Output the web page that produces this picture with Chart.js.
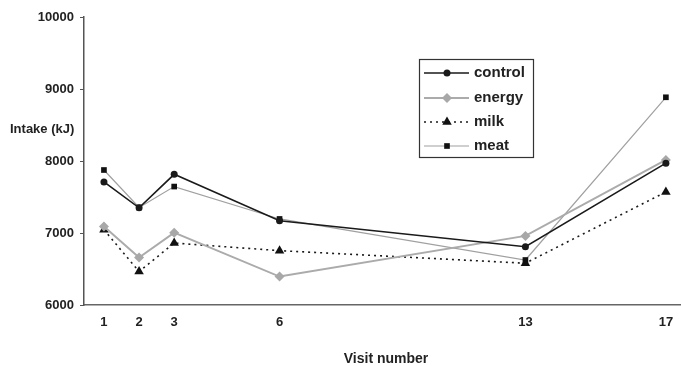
<!DOCTYPE html>
<html>
<head>
<meta charset="utf-8">
<script src="https://cdn.jsdelivr.net/npm/chart.js@4.4.0/dist/chart.umd.min.js"></script>
<style>
html,body{margin:0;padding:0;background:#fff;}
#wrap{width:681px;height:366px;position:relative;}
</style>
</head>
<body>
<div id="wrap"><canvas id="c" width="681" height="366"></canvas></div>
<script>
const visits = [1, 2, 3, 6, 13, 17];
const control = [7710, 7350, 7815, 7170, 6810, 7970];
const energy  = [7090, 6660, 7005, 6395, 6960, 8015];
const milk    = [7045, 6465, 6860, 6755, 6580, 7570];
const meat    = [7875, 7355, 7645, 7195, 6625, 8885];
const yTicks  = [6000, 7000, 8000, 9000, 10000];
const seriesNames = ['control', 'energy', 'milk', 'meat'];

const FONT = '"Liberation Sans", Arial, sans-serif';

function pts(vals){ return visits.map((v,i)=>({x:v, y:vals[i]})); }

const datasets = [
  {label: seriesNames[0], data: pts(control), borderColor:'#1a1a1a', backgroundColor:'#1a1a1a', borderWidth:1.6,
   pointStyle:'circle', pointRadius:3.5, pointBorderWidth:0},
  {label: seriesNames[1], data: pts(energy), borderColor:'#ababab', backgroundColor:'#a8a8a8', borderWidth:2,
   pointStyle:'rectRot', pointRadius:5, pointBorderWidth:0},
  {label: seriesNames[2], data: pts(milk), borderColor:'#1a1a1a', backgroundColor:'#111', borderWidth:1.6,
   borderDash:[2,4], pointStyle:'triangle', pointRadius:5.5, pointBorderWidth:0},
  {label: seriesNames[3], data: pts(meat), borderColor:'#a0a0a0', backgroundColor:'#111', borderWidth:1.2,
   pointStyle:'rect', pointRadius:4, pointBorderWidth:0}
];
datasets.forEach(d=>{ d.fill=false; d.tension=0; d.pointHoverRadius=d.pointRadius; });

const textPlugin = {
  id:'extraText',
  afterDraw(chart){
    const ctx = chart.ctx;
    ctx.save();
    ctx.fillStyle = '#222';
    ctx.font = 'bold 13px ' + FONT;
    ctx.textAlign = 'left';
    ctx.textBaseline = 'middle';
    ctx.fillText('Intake (kJ)', 10, 129);
    ctx.font = 'bold 14px ' + FONT;
    ctx.textAlign = 'center';
    ctx.fillText('Visit number', 386, 359);

    // legend
    const bx = 419, by = 59, bw = 114, bh = 98;
    ctx.strokeStyle = '#333';
    ctx.lineWidth = 1.2;
    ctx.strokeRect(bx+0.5, by+0.5, bw, bh);
    const rows = [73, 98, 122, 146];
    chart.data.datasets.forEach((ds, i)=>{
      const y = rows[i];
      ctx.save();
      ctx.strokeStyle = ds.borderColor;
      ctx.lineWidth = ds.borderWidth;
      ctx.setLineDash(ds.borderDash || []);
      ctx.beginPath();
      ctx.moveTo(424, y); ctx.lineTo(469, y);
      ctx.stroke();
      ctx.restore();
      ctx.save();
      ctx.fillStyle = ds.backgroundColor;
      ctx.strokeStyle = ds.backgroundColor;
      Chart.helpers.drawPoint(ctx, {pointStyle: ds.pointStyle, radius: ds.pointRadius, borderWidth: 0, rotation:0}, 447, y);
      ctx.restore();
      ctx.fillStyle = '#222';
      ctx.font = 'bold 15px ' + FONT;
      ctx.textAlign = 'left';
      ctx.textBaseline = 'middle';
      ctx.fillText(ds.label, 474, y);
    });
    ctx.restore();
  }
};

new Chart(document.getElementById('c'), {
  type:'line',
  data:{datasets},
  options:{
    responsive:false,
    animation:false,
    devicePixelRatio:1,
    layout:{autoPadding:false, padding:{top:17, right:0, bottom:0, left:0}},
    plugins:{legend:{display:false}, tooltip:{enabled:false}},
    scales:{
      x:{
        type:'linear', min:0.432, max:17.43,
        afterBuildTicks(s){ s.ticks = visits.map(v=>({value:v})); },
        afterFit(s){ s.height = 61; s.paddingLeft = 0; s.paddingRight = 0; },
        grid:{display:true, drawOnChartArea:false, drawTicks:false},
        border:{display:true, color:'#666', width:1.5},
        ticks:{padding:10, color:'#222', font:{family:FONT, size:13, weight:'bold'}, autoSkip:false, maxRotation:0,
               callback:(v)=>String(v)}
      },
      y:{
        min:6000, max:10000,
        afterBuildTicks(s){ s.ticks = yTicks.map(v=>({value:v})); },
        afterFit(s){ s.width = 84; },
        grid:{display:true, drawOnChartArea:false, drawTicks:true, tickLength:4, color:'#555', tickWidth:1},
        border:{display:true, color:'#555', width:1.5},
        ticks:{padding:6, color:'#222', font:{family:FONT, size:13, weight:'bold'}, callback:(v)=>String(v)}
      }
    }
  },
  plugins:[textPlugin]
});
</script>
</body>
</html>
